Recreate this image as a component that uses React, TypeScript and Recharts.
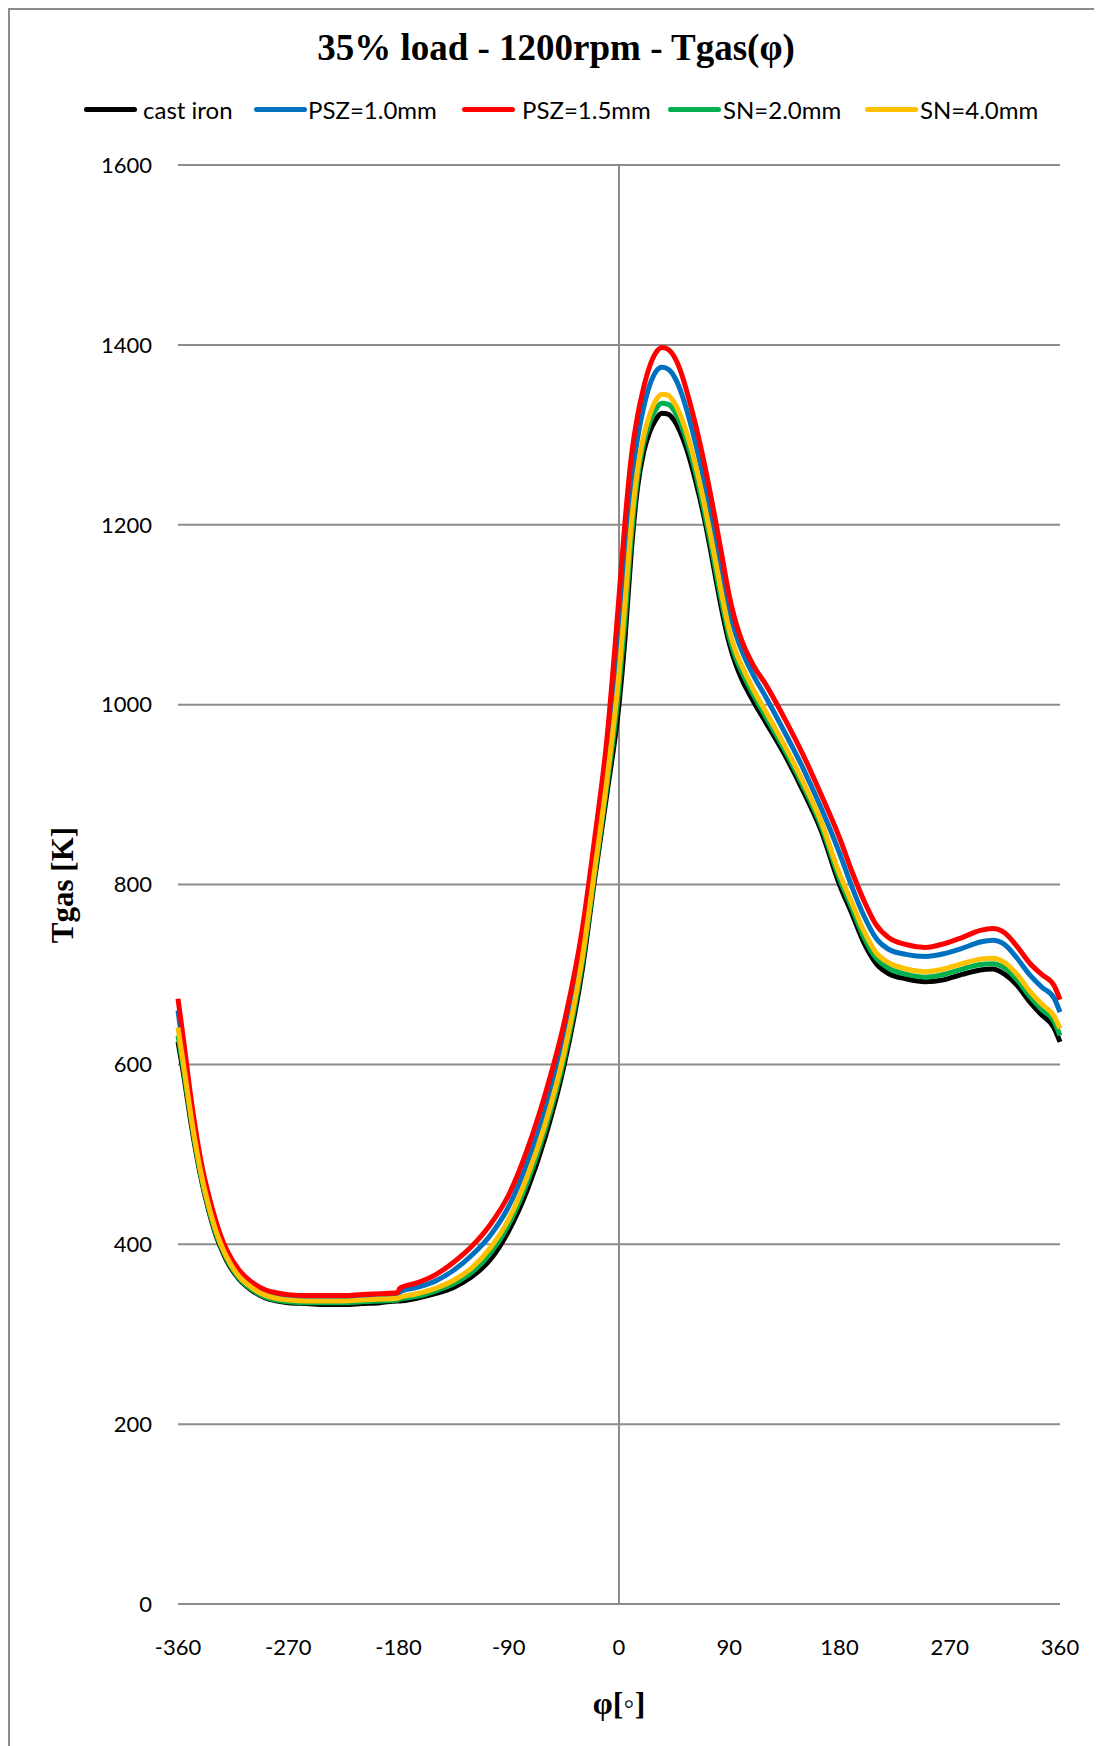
import { LineChart, Line, XAxis, YAxis, CartesianGrid, ReferenceLine } from 'recharts';

// crank angle [deg]
const phi = [
  -360, -355, -350, -345, -340, -335, -330, -325, -320, -310, -300, -290, -280, -270, -255, -240, -225, -210,
  -195, -181, -179, -165, -150, -135, -120, -105, -90, -75, -60, -45, -30, -20, -10, 0, 5, 10, 15, 20, 25, 30,
  35, 40, 45, 50, 55, 60, 65, 70, 75, 80, 85, 90, 95, 100, 110, 120, 135, 150, 165, 180, 190, 200, 210, 220,
  235, 250, 265, 280, 295, 305, 315, 325, 335, 345, 355, 360,
];

const castIron = [
  625, 585, 540, 500, 466, 438, 414, 396, 381, 361, 349, 341, 337, 335, 334, 333, 333, 334,
  335, 337, 337, 340, 345, 352, 364, 383, 415, 460, 520, 598, 705, 805, 900, 1000, 1075, 1170, 1240, 1280, 1303, 1317,
  1324, 1323, 1316, 1303, 1285, 1262, 1235, 1205, 1170, 1133, 1098, 1068, 1046, 1029, 1003, 980, 945, 905, 860, 800, 768, 735, 712, 701,
  695, 692, 694, 700, 705, 706, 700, 688, 670, 655, 641, 625,
];

const psz10 = [
  660, 608, 556, 512, 475, 446, 422, 402, 387, 366, 353, 346, 342, 340, 339, 339, 339, 340,
  341, 342, 347, 352, 359, 371, 388, 410, 442, 490, 550, 627, 733, 830, 935, 1080, 1170, 1245, 1295, 1330, 1355, 1370,
  1375, 1373, 1365, 1350, 1329, 1304, 1276, 1245, 1212, 1176, 1140, 1105, 1080, 1061, 1032, 1008, 970, 930, 885, 835, 798, 765, 740, 728,
  722, 720, 723, 729, 736, 738, 733, 718, 700, 686, 674, 658,
];

const psz15 = [
  673, 622, 568, 522, 484, 455, 430, 409, 393, 371, 358, 350, 346, 344, 343, 343, 343, 344,
  345, 346, 351, 357, 366, 380, 398, 422, 455, 505, 568, 645, 750, 850, 960, 1120, 1205, 1275, 1320, 1352, 1376, 1391,
  1397, 1395, 1387, 1372, 1350, 1325, 1297, 1266, 1232, 1196, 1158, 1121, 1093, 1072, 1043, 1022, 985, 945, 900, 852, 815, 782, 755, 741,
  733, 730, 734, 741, 749, 751, 746, 731, 713, 700, 688, 672,
];

const sn20 = [
  632, 590, 544, 503, 468, 440, 416, 398, 383, 362, 350, 342, 338, 336, 335, 335, 335, 336,
  337, 338, 339, 342, 348, 356, 369, 390, 422, 468, 528, 605, 712, 810, 908, 1018, 1095, 1185, 1250, 1290, 1313, 1328,
  1335, 1334, 1327, 1313, 1294, 1271, 1243, 1212, 1178, 1141, 1106, 1075, 1053, 1037, 1010, 986, 950, 910, 865, 806, 774, 741, 718, 707,
  700, 697, 700, 706, 711, 712, 707, 694, 676, 661, 648, 632,
];

const sn40 = [
  641, 595, 548, 506, 471, 443, 419, 400, 385, 364, 352, 344, 340, 338, 337, 337, 337, 338,
  339, 340, 341, 345, 351, 360, 374, 396, 428, 475, 535, 612, 718, 815, 915, 1035, 1115, 1200, 1260, 1298, 1322, 1338,
  1345, 1344, 1336, 1322, 1303, 1280, 1252, 1221, 1187, 1151, 1115, 1083, 1060, 1044, 1016, 992, 955, 915, 870, 812, 780, 748, 724, 713,
  706, 703, 706, 712, 717, 718, 713, 700, 682, 667, 654, 640,
];

const xTicks = [-360, -270, -180, -90, 0, 90, 180, 270, 360];
const yTicks = [0, 200, 400, 600, 800, 1000, 1200, 1400, 1600];

const series = [
  { key: 'castIron', name: 'cast iron', color: '#000000', values: castIron },
  { key: 'psz10', name: 'PSZ=1.0mm', color: '#0070C0', values: psz10 },
  { key: 'psz15', name: 'PSZ=1.5mm', color: '#FF0000', values: psz15 },
  { key: 'sn20', name: 'SN=2.0mm', color: '#00B050', values: sn20 },
  { key: 'sn40', name: 'SN=4.0mm', color: '#FFC000', values: sn40 },
];

const data = phi.map((p, i) => {
  const row: Record<string, number> = { phi: p };
  series.forEach((s) => {
    row[s.key] = s.values[i];
  });
  return row;
});

// legend item left edges (line start) and gap to text
const legendPos = [74, 244, 452, 658, 855];
const legendGap = [6, 1, 7, 2, 2];

const GRID = '#8c8c8c';
const SERIF = '"Liberation Serif", "Times New Roman", serif';
const tickFont = { fill: '#000', fontSize: 22, fontFamily: 'Lato, sans-serif' };

export default function App() {
  return (
    <div
      style={{
        position: 'relative',
        width: 1094,
        height: 1738,
        borderLeft: `2px solid ${GRID}`,
        borderTop: `2px solid ${GRID}`,
        boxSizing: 'border-box',
        background: '#fff',
      }}
    >
      <div
        style={{
          position: 'absolute',
          left: 0,
          top: 17,
          width: 1092,
          textAlign: 'center',
          fontFamily: SERIF,
          fontWeight: 'bold',
          fontSize: 37,
          lineHeight: '42px',
        }}
      >
        35% load - 1200rpm - Tgas(φ)
      </div>

      {series.map((s, i) => (
        <div
          key={s.key}
          style={{
            position: 'absolute',
            left: legendPos[i],
            top: 84,
            height: 30,
            display: 'flex',
            alignItems: 'center',
            fontFamily: 'Lato, sans-serif',
            fontSize: 24,
            whiteSpace: 'nowrap',
          }}
        >
          <span
            style={{
              display: 'inline-block',
              width: 53,
              height: 5,
              borderRadius: 3,
              background: s.color,
              marginRight: legendGap[i],
            }}
          />
          <span>{s.name}</span>
        </div>
      ))}

      <div style={{ position: 'absolute', left: 0, top: 0 }}>
        <LineChart width={1092} height={1736} data={data} margin={{ top: 155, right: 42, left: 0, bottom: 82 }}>
          <CartesianGrid vertical={false} stroke={GRID} strokeWidth={2} />
          <XAxis
            dataKey="phi"
            type="number"
            domain={[-360, 360]}
            ticks={xTicks}
            axisLine={false}
            tickLine={false}
            tickSize={0}
            tickMargin={35}
            height={60}
            tick={tickFont}
            interval={0}
          />
          <YAxis
            type="number"
            domain={[0, 1600]}
            ticks={yTicks}
            axisLine={false}
            tickLine={false}
            tickSize={0}
            tickMargin={26}
            width={168}
            tick={tickFont}
            interval={0}
          />
          <ReferenceLine x={0} stroke={GRID} strokeWidth={2} />
          {series.map((s) => (
            <Line
              key={s.key}
              type="monotone"
              dataKey={s.key}
              name={s.name}
              stroke={s.color}
              strokeWidth={5}
              dot={false}
              activeDot={false}
              isAnimationActive={false}
            />
          ))}
        </LineChart>
      </div>

      <div
        style={{
          position: 'absolute',
          left: 53,
          top: 875,
          transform: 'translate(-50%, -50%) rotate(-90deg)',
          fontFamily: SERIF,
          fontWeight: 'bold',
          fontSize: 31,
          whiteSpace: 'nowrap',
        }}
      >
        Tgas [K]
      </div>
      <div
        style={{
          position: 'absolute',
          left: 609,
          top: 1693,
          transform: 'translate(-50%, -50%)',
          fontFamily: SERIF,
          fontWeight: 'bold',
          fontSize: 32,
          whiteSpace: 'nowrap',
        }}
      >
        φ[◦]
      </div>
    </div>
  );
}
